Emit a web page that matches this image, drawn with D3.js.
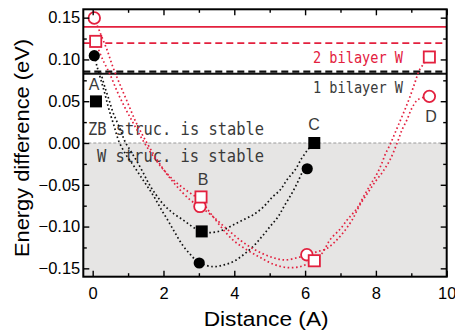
<!DOCTYPE html>
<html>
<head>
<meta charset="utf-8">
<script src="https://cdn.jsdelivr.net/npm/d3@7"></script>
<style>
  body { margin: 0; background: #fff; }
  text { font-family: "Liberation Sans", Arial, sans-serif; }
</style>
</head>
<body>
<div id="chart"></div>
<script>
// ---- data ----
const xTicks = [0, 2, 4, 6, 8, 10];
const xMinor = [1, 3, 5, 7, 9];
const yTicks = [-0.15, -0.10, -0.05, 0.00, 0.05, 0.10, 0.15];
const yMinor = [-0.125, -0.075, -0.025, 0.025, 0.075, 0.125];

// markers
const blackCircles = [[0.045, 0.1045], [3.01, -0.1436], [6.06, -0.0308]];
const blackSquares = [[0.093, 0.0498], [3.08, -0.1058], [6.26, 0.0]];
const redCircles = [[0.045, 0.1496], [3.03, -0.0759], [6.05, -0.1337], [9.51, 0.0558]];
const redSquares = [[0.085, 0.1216], [3.06, -0.0646], [6.26, -0.1409], [9.51, 0.1029]];

// dotted fit curves
const blackCircleFit = [[0.045, 0.1045], [0.12, 0.092], [0.23, 0.076], [0.35, 0.058], [0.46, 0.040], [0.60, 0.021],
  [0.74, 0.002], [0.94, -0.014], [1.14, -0.026], [1.34, -0.039], [1.53, -0.051], [1.73, -0.064], [1.93, -0.079],
  [2.13, -0.093], [2.32, -0.107], [2.52, -0.121], [2.75, -0.133], [3.00, -0.143], [3.40, -0.148], [3.69, -0.146],
  [3.97, -0.142], [4.25, -0.134], [4.53, -0.124], [4.78, -0.112], [5.01, -0.100], [5.24, -0.088], [5.43, -0.074],
  [5.63, -0.060], [5.80, -0.046], [5.94, -0.034], [6.05, -0.030]];
const blackSquareFit = [[0.23, 0.084], [0.35, 0.066], [0.46, 0.052], [0.57, 0.037], [0.69, 0.025], [0.80, 0.014],
  [0.91, 0.002], [1.08, -0.010], [1.25, -0.022], [1.42, -0.035], [1.59, -0.049], [1.79, -0.062], [2.01, -0.074],
  [2.27, -0.084], [2.55, -0.092], [2.81, -0.100], [3.06, -0.106], [3.40, -0.107], [3.69, -0.104], [3.97, -0.098],
  [4.25, -0.092], [4.53, -0.086], [4.81, -0.077], [5.07, -0.065], [5.30, -0.056], [5.49, -0.044], [5.72, -0.032],
  [5.91, -0.018], [6.08, -0.008], [6.25, 0.0]];
const redCircleFit = [[0.045, 0.150], [0.21, 0.132], [0.40, 0.112], [0.57, 0.091], [0.77, 0.070], [1.00, 0.047],
  [1.22, 0.025], [1.48, 0.004], [1.76, -0.016], [2.04, -0.034], [2.38, -0.052], [2.75, -0.068], [3.03, -0.076],
  [3.37, -0.087], [3.74, -0.101], [4.16, -0.116], [4.59, -0.128], [5.01, -0.136], [5.43, -0.140], [5.80, -0.137],
  [6.05, -0.134], [6.35, -0.130], [6.62, -0.126], [6.85, -0.118], [7.10, -0.106], [7.33, -0.092], [7.55, -0.074],
  [7.78, -0.059], [7.97, -0.047], [8.20, -0.034], [8.40, -0.020], [8.60, 0.000], [8.74, 0.016], [8.88, 0.028],
  [9.02, 0.042], [9.19, 0.052], [9.51, 0.056]];
const redSquareFit = [[0.085, 0.121], [0.26, 0.102], [0.49, 0.082], [0.71, 0.060], [0.94, 0.040], [1.17, 0.022],
  [1.42, 0.003], [1.68, -0.014], [1.96, -0.030], [2.30, -0.045], [2.69, -0.058], [3.03, -0.068], [3.31, -0.083],
  [3.60, -0.099], [3.96, -0.116], [4.36, -0.128], [4.73, -0.137], [5.10, -0.145], [5.49, -0.149], [5.86, -0.148],
  [6.22, -0.141], [6.48, -0.132], [6.70, -0.116], [6.99, -0.103], [7.21, -0.091], [7.47, -0.078], [7.64, -0.065],
  [7.83, -0.051], [8.03, -0.037], [8.17, -0.024], [8.26, -0.014], [8.40, -0.002], [8.54, 0.012], [8.68, 0.026],
  [8.82, 0.040], [8.96, 0.055], [9.10, 0.072], [9.24, 0.088], [9.51, 0.103]];

// reference levels
const level2Solid = 0.139;   // red solid
const level2Dash = 0.1195;   // red dashed
const level1Dash = 0.0853;   // black dashed
const level1Solid = 0.0829;  // black solid

const pointLabels = [
  { t: 'A', x: 0.04, y: 0.064 },
  { t: 'B', x: 3.12, y: -0.050 },
  { t: 'C', x: 6.25, y: 0.016 },
  { t: 'D', x: 9.56, y: 0.025 }
];

// ---- layout ----
const W = 455, H = 332;
const margin = { top: 9.3, right: 8.3, bottom: 55.3, left: 83.3 };
const width = W - margin.left - margin.right;
const height = H - margin.top - margin.bottom;
const red = '#e3203e';
const ink = '#3a3a3a';

const svg = d3.select('#chart').append('svg').attr('width', W).attr('height', H);
const g = svg.append('g').attr('transform', `translate(${margin.left},${margin.top})`);

const x = d3.scaleLinear().domain([-0.265, 10]).range([0, width]);
const y = d3.scaleLinear().domain([-0.16, 0.16]).range([height, 0]);

// gray "W is stable" zone
g.append('rect')
  .attr('x', 0).attr('y', y(0))
  .attr('width', width).attr('height', height - y(0))
  .attr('fill', '#e6e5e4');
g.append('line')
  .attr('x1', 0).attr('x2', width).attr('y1', y(0)).attr('y2', y(0))
  .attr('stroke', '#9a9a9a').attr('stroke-width', 1).attr('stroke-dasharray', '3,2');

// reference levels
function hline(v, color, w, dash) {
  g.append('line')
    .attr('x1', 0).attr('x2', width).attr('y1', y(v)).attr('y2', y(v))
    .attr('stroke', color).attr('stroke-width', w)
    .attr('stroke-dasharray', dash || null);
}
hline(level2Solid, red, 1.6);
hline(level2Dash, red, 1.8, '7,4');
hline(level1Solid, '#111', 1.8);
hline(level1Dash, '#111', 2.2, '7,4');

// annotation text
function note(txt, px, py, size, len, color) {
  g.append('text')
    .attr('x', px).attr('y', py)
    .style('font-family', '"DejaVu Sans Mono", monospace')
    .style('font-size', size + 'px')
    .attr('fill', color)
    .attr('textLength', len).attr('lengthAdjust', 'spacingAndGlyphs')
    .text(txt);
}
note('ZB struc. is stable', 88 - margin.left, 135 - margin.top, 17, 176, ink);
note('W struc. is stable', 97 - margin.left, 162 - margin.top, 17, 167, ink);
note('2 bilayer W', 313 - margin.left, 63 - margin.top, 16, 90, red);
note('1 bilayer W', 313 - margin.left, 93 - margin.top, 16, 90, ink);

// dotted fits
const line = d3.line().x(d => x(d[0])).y(d => y(d[1])).curve(d3.curveCatmullRom);
function dotted(data, color) {
  g.append('path')
    .datum(data)
    .attr('d', line)
    .attr('fill', 'none')
    .attr('stroke', color)
    .attr('stroke-width', 1.7)
    .attr('stroke-dasharray', '1.6,2.6');
}
dotted(blackCircleFit, '#111');
dotted(blackSquareFit, '#111');
dotted(redCircleFit, red);
dotted(redSquareFit, red);

// markers
g.selectAll('.bc').data(blackCircles).enter().append('circle')
  .attr('cx', d => x(d[0])).attr('cy', d => y(d[1])).attr('r', 5.6).attr('fill', '#000');
g.selectAll('.bs').data(blackSquares).enter().append('rect')
  .attr('x', d => x(d[0]) - 6).attr('y', d => y(d[1]) - 6)
  .attr('width', 12).attr('height', 12).attr('fill', '#000');
g.selectAll('.rc').data(redCircles).enter().append('circle')
  .attr('cx', d => x(d[0])).attr('cy', d => y(d[1])).attr('r', 5.8)
  .attr('fill', '#fff').attr('stroke', red).attr('stroke-width', 1.8);
g.selectAll('.rs').data(redSquares).enter().append('rect')
  .attr('x', d => x(d[0]) - 5.6).attr('y', d => y(d[1]) - 5.6)
  .attr('width', 11.2).attr('height', 11.2)
  .attr('fill', '#fff').attr('stroke', red).attr('stroke-width', 1.8);

// point letters
g.selectAll('.pl').data(pointLabels).enter().append('text')
  .attr('x', d => x(d.x)).attr('y', d => y(d.y))
  .attr('text-anchor', 'middle')
  .style('font-size', '16px').attr('fill', ink)
  .text(d => d.t);

// axes: inward ticks on all four sides
const fmt = d3.format('.2f');
const xb = g.append('g').attr('transform', `translate(0,${height})`)
  .call(d3.axisBottom(x).tickValues(xTicks).tickSizeInner(-6).tickSizeOuter(0).tickPadding(11).tickFormat(d3.format('d')));
xb.append('g').call(d3.axisBottom(x).tickValues(xMinor).tickSizeInner(-3.5).tickSizeOuter(0).tickFormat(''));
const xt = g.append('g')
  .call(d3.axisTop(x).tickValues(xTicks).tickSizeInner(-6).tickSizeOuter(0).tickFormat(''));
xt.append('g').call(d3.axisTop(x).tickValues(xMinor).tickSizeInner(-3.5).tickSizeOuter(0).tickFormat(''));
const yl = g.append('g')
  .call(d3.axisLeft(y).tickValues(yTicks).tickSizeInner(-6).tickSizeOuter(0).tickPadding(3).tickFormat(fmt));
yl.append('g').call(d3.axisLeft(y).tickValues(yMinor).tickSizeInner(-3.5).tickSizeOuter(0).tickFormat(''));
const yr = g.append('g').attr('transform', `translate(${width},0)`)
  .call(d3.axisRight(y).tickValues(yTicks).tickSizeInner(-6).tickSizeOuter(0).tickFormat(''));
yr.append('g').call(d3.axisRight(y).tickValues(yMinor).tickSizeInner(-3.5).tickSizeOuter(0).tickFormat(''));

g.selectAll('.domain').remove();
g.selectAll('.tick line').attr('stroke', '#000').attr('stroke-width', 1.4);
g.selectAll('.tick text')
  .style('font-family', '"Liberation Sans", Arial, sans-serif')
  .style('font-size', '16.5px').attr('fill', '#000');

// frame
g.append('rect')
  .attr('width', width).attr('height', height)
  .attr('fill', 'none').attr('stroke', '#000').attr('stroke-width', 2);

// axis titles
svg.append('text')
  .attr('x', margin.left + x(4.9)).attr('y', 326)
  .attr('text-anchor', 'middle')
  .style('font-size', '20px')
  .attr('textLength', 125).attr('lengthAdjust', 'spacingAndGlyphs')
  .text('Distance (A)');
svg.append('text')
  .attr('transform', 'translate(28.5,148) rotate(-90)')
  .attr('text-anchor', 'middle')
  .style('font-size', '21px')
  .attr('textLength', 218).attr('lengthAdjust', 'spacingAndGlyphs')
  .text('Energy difference (eV)');
</script>
</body>
</html>
